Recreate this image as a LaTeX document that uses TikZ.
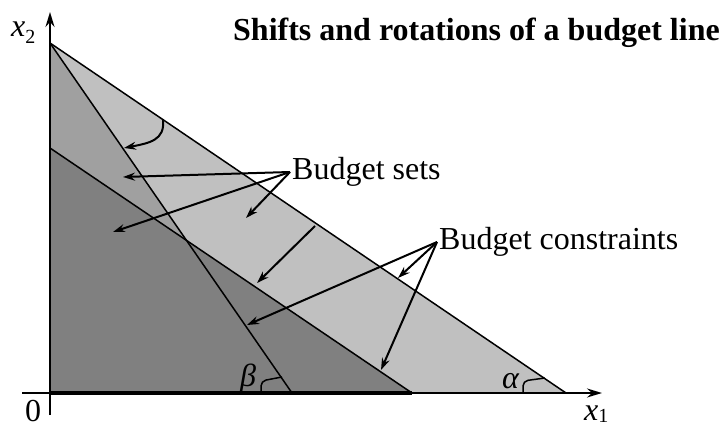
\documentclass[tikz,border=0pt]{standalone}
\usepackage{fontspec}
\setmainfont{Liberation Serif}
\usetikzlibrary{arrows.meta}
\definecolor{lightg}{HTML}{C0C0C0}
\definecolor{midg}{HTML}{A0A0A0}
\definecolor{darkg}{HTML}{808080}
\newcommand{\subsc}[2]{\raisebox{#2}{\fontsize{20}{20}\selectfont #1}}
\begin{document}
\begin{tikzpicture}[x=1pt,y=-1pt,
  edge/.style={line width=1.5pt},
  axisline/.style={line width=2pt,-{Stealth[length=15pt,width=9pt,inset=5pt]}},
  ptr/.style={line width=2pt,-{Stealth[length=12pt,width=8pt,inset=4pt]}},
  lbl/.style={font=\fontsize{32}{36}\selectfont, inner sep=0pt},
  anglemark/.style={line width=1.5pt, rounded corners=5pt},
]
\useasboundingbox (0,0) rectangle (722,427);
% key points
\coordinate (O) at (50,393);
\coordinate (T) at (50,43);
\coordinate (M) at (50,148);
\coordinate (B) at (566,393);
\coordinate (D) at (412,393);
\coordinate (S) at (292,393);
% regions
\fill[lightg] (T) -- (B) -- (O) -- cycle;
\fill[midg] (T) -- (S) -- (O) -- cycle;
\fill[darkg] (M) -- (D) -- (O) -- cycle;
% budget lines
\draw[edge] (T) -- (B);
\draw[edge] (T) -- (S);
\draw[edge] (M) -- (D);
% axes
\coordinate (xs) at (22,393);
\coordinate (xe) at (602,393);
\coordinate (ys) at (50,415);
\coordinate (ye) at (50,12);
\draw[axisline] (xs) -- (xe);
\draw[axisline] (ys) -- (ye);
\draw[line width=3.2pt] (O) -- (D);
% angle marks
\coordinate (b0) at (261,393);
\coordinate (b1) at (261,381);
\coordinate (b2) at (282,377);
\coordinate (a0) at (523,393);
\coordinate (a1) at (523,381);
\coordinate (a2) at (545,378);
\draw[anglemark] (b0) -- (b1) -- (b2);
\draw[anglemark] (a0) -- (a1) -- (a2);
% labels
\node[lbl, anchor=base west] (title) at (233,41) {\bfseries Shifts and rotations of a budget line};
\node[lbl, anchor=base west] (sets) at (292,180) {Budget sets};
\node[lbl, anchor=base west] (cons) at (439,250) {Budget constraints};
\node[lbl, anchor=base west] (x2) at (11,37) {\textit{x}\subsc{2}{-7pt}};
\node[lbl, anchor=base west] (x1) at (584,420) {\textit{x}\subsc{1}{-2pt}};
\node[lbl, anchor=base west] (zero) at (25,421) {0};
\node[lbl, anchor=base west] (alpha) at (502,388) {\textit{α}};
\node[lbl, anchor=base west] (beta) at (240,386) {\textit{β}};
% arrows from labels
\coordinate (sp) at (290,172);
\coordinate (cp) at (437,242);
\coordinate (s1) at (123,177);
\coordinate (s2) at (113,232);
\coordinate (s3) at (246,218);
\coordinate (c1) at (398,278);
\coordinate (c2) at (381,370);
\coordinate (c3) at (247,325);
\draw[ptr] (sp) -- (s1);
\draw[ptr] (sp) -- (s2);
\draw[ptr] (sp) -- (s3);
\draw[ptr] (cp) -- (c1);
\draw[ptr] (cp) -- (c2);
\draw[ptr] (cp) -- (c3);
% shift arrow
\coordinate (sh0) at (315,226);
\coordinate (sh1) at (257,283);
\draw[ptr] (sh0) -- (sh1);
% rotation arrow
\coordinate (r0) at (163,120);
\coordinate (r1) at (124,148);
\draw[ptr] (r0) .. controls (165,140) and (150,143) .. (r1);
\end{tikzpicture}
\end{document}
